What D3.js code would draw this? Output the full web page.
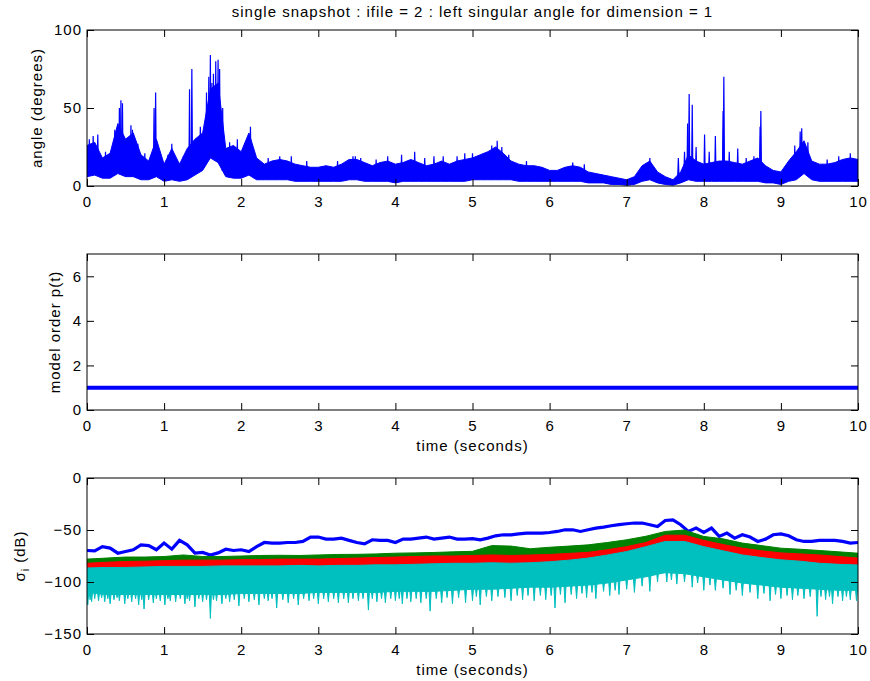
<!DOCTYPE html>
<html>
<head>
<meta charset="utf-8">
<script src="https://cdn.jsdelivr.net/npm/d3@7"></script>
<style>
body { margin: 0; background: #fff; }
text { font-family: "Liberation Sans", Arial, Helvetica, sans-serif; letter-spacing: 1px; }
</style>
</head>
<body>
<svg id="fig" width="870" height="681"></svg>
<script>
// angle (degrees), sampled every 0.1 s from 0 to 10 s: top and bottom of the dense band
var angleHi = [26,28,18,21,40,30,34,20,16,30, 14,24,14,24,30,34,62,66,24,26,
  22,34,18,14,16,17,16,14,13,12, 12,13,12,14,17,17,15,13,15,16,
  14,15,17,15,13,14,16,14,16,17, 18,20,22,25,21,16,14,13,13,12,
  10,10,12,13,12,9,8,7,6,5, 4,6,13,16,9,6,4,9,20,16,
  14,15,16,16,15,14,16,18,13,10, 9,16,22,29,16,14,14,15,17,18, 17];
var angleLo = [6,7,5,5,8,6,6,4,4,6, 3,4,3,4,7,10,18,15,6,5,
  5,7,4,4,4,4,4,3,3,3, 3,3,3,3,4,4,3,3,3,3,
  2,3,3,3,3,3,3,3,3,3, 4,4,4,4,4,4,3,3,3,3,
  3,3,3,3,3,2,2,2,1,1, 0.5,1,3,4,2,1,0.5,2,4,3,
  3,3,3,3,3,3,3,3,2,2, 1,3,4,8,4,3,3,3,3,3, 3];
// narrow peaks of the angle [time, degrees]
var angleSpikes = [[0.03,30],[0.08,32],[0.14,33],[0.24,22],[0.36,36],[0.42,50],[0.44,55],[0.46,53],[0.57,39],[0.59,36],
  [0.66,27],[0.75,21],[0.87,50],[0.89,60],[1.05,20],[1.1,27],[1.25,19],[1.33,62],[1.36,75],[1.47,38],[1.55,60],
  [1.58,70],[1.6,84],[1.62,66],[1.64,72],[1.67,80],[1.7,81],[1.72,75],[1.76,50],[1.85,28],[1.95,30],[2.05,27],
  [2.12,38],[2.35,18],[2.5,19],[2.65,19],[2.85,16],[3.25,16],[3.45,19],[3.48,19],[3.55,18],[3.75,17],[3.9,19],
  [4.08,20],[4.25,22],[4.38,18],[4.5,19],[4.62,19],[4.8,19],[4.9,21],[5.0,21],[5.15,21],[5.25,26],[5.32,29],
  [5.38,25],[5.47,20],[5.7,16],[6.3,15],[6.45,14],[7.3,18],[7.67,18],[7.75,22],
  [7.79,40],[7.81,59],[7.85,52],[7.9,25],[8.01,33],[8.07,22],[8.15,32],[8.25,48],[8.26,70],[8.33,22],[8.44,24],
  [8.55,18],[8.65,19],[8.73,38],[8.74,48],[9.18,26],[9.25,35],[9.27,37],[9.35,28],[9.6,17],[9.75,19],[9.9,21]];

// model order p(t)
var orderTimes = [0, 10];
var orderValues = [1, 1];

// sigma_1 (dB) every 0.1 s
var sigma1 = [-69.7,-70,-66,-67.4,-72.3,-70.7,-69,-64.3,-65,-69,
  -62.6,-68.4,-60,-64.3,-72.3,-71.6,-74,-72,-68.5,-69.7,
  -69,-70.7,-66,-62,-62.6,-62.6,-62,-62,-61,-56.8,
  -56.8,-58.8,-58.8,-57.8,-60,-62,-63.3,-59.4,-60,-60,
  -62,-58.8,-58.8,-57.8,-56.8,-58.8,-57.8,-56.8,-58.8,-58.8,
  -58.3,-59.4,-57.8,-55.6,-54.6,-54.6,-53.7,-53,-53,-53,
  -52.4,-51.4,-49.8,-49.8,-51.4,-49.8,-48.2,-47.2,-45.9,-44.9,
  -44,-43.3,-43.3,-44.9,-46.6,-40.8,-40.2,-44.9,-51.4,-48.2,
  -52.4,-48.2,-56.2,-53,-57.8,-54.6,-56.8,-61,-58.8,-54.6,
  -53.7,-55.6,-59.4,-61,-61,-60,-60,-60,-61,-62.6, -62];

// sigma_2..4 bands (dB) every 0.25 s
var greenHi = [-78,-77,-76,-76,-75.5,-74,-75.5,-75.5,-75,-74.5, -74.3,-74.5,-74,-73.5,-73.4,-73,-72.3,-72,-71.6,-71,
  -70.5,-65,-65.5,-68,-66.6,-65.5,-64.3,-62,-59.4,-56, -51.4,-50,-56.2,-58.5,-62.6,-65,-67.5,-68.5,-69.7,-71,-72.3];
var greenLo = [-85,-84,-83.5,-83,-82.5,-82,-82,-82,-81.5,-81.5, -81,-81,-81,-80.5,-80,-79.5,-79,-78.5,-78,-78,
  -77.5,-77,-77.5,-77,-76.5,-75.5,-74.5,-72,-69,-65, -58,-58,-63,-67,-70.5,-73,-75,-76,-77,-78.5,-80];
var redHi = [-82,-81,-80.3,-80,-79.5,-79,-79,-79,-78.5,-78.5, -78,-78,-78,-77.5,-77,-76.5,-76,-75.5,-75,-75,
  -74.5,-74,-74.5,-74,-73.5,-72.5,-71.5,-69,-66,-62, -55,-55,-60,-64,-67.5,-70,-72,-73,-74,-75.5,-77];
var redLo = [-89.5,-89,-89,-88.5,-88,-88,-88,-87.5,-87.5,-87.5, -87.5,-87,-87.5,-87,-87,-86.5,-86.5,-86,-85.5,-85,
  -85,-84.5,-85,-84.5,-83.5,-82,-80,-77,-73.7,-69, -64,-64,-69,-73,-77,-79.5,-81.7,-83,-85,-86,-86.6];
var cyanHi = [-86.5,-86,-86,-85.5,-85,-85,-85,-84.5,-84.5,-84.5, -84.5,-84,-84.5,-84,-84,-83.5,-83.5,-83,-82.5,-82,
  -82,-81.5,-82,-81.5,-80.5,-79,-77,-74,-70.7,-66, -61,-61,-66,-70,-74,-76.5,-78.7,-80,-82,-83,-83.6];
var cyanLo = [-110,-112,-112,-112,-112,-112,-112,-112,-111,-111, -111,-111,-110,-110,-110,-110,-109,-109,-109,-108,
  -107,-107,-106,-105,-105,-104,-103,-101,-98,-95, -91,-92,-95,-98,-101,-103,-105,-106,-107,-108,-108];
// downward peaks of sigma_4 [time, dB]
var cyanSpikes = [[0.01,-122],[0.04,-117],[0.06,-119],[0.1,-116],[0.15,-118],[0.19,-115],[0.23,-119],[0.27,-116],
  [0.3,-121],[0.35,-117],[0.39,-115],[0.42,-118],[0.49,-121],[0.53,-116],[0.58,-119],[0.63,-116],[0.67,-122],
  [0.71,-117],[0.74,-126],[0.8,-117],[0.86,-120],[0.9,-116],[0.95,-118],[1.01,-122],[1.05,-116],[1.08,-118],
  [1.15,-119],[1.21,-116],[1.27,-121],[1.3,-116],[1.33,-118],[1.4,-124],[1.45,-116],[1.5,-119],[1.55,-117],
  [1.6,-135],[1.64,-117],[1.68,-118],[1.75,-121],[1.8,-116],[1.85,-119],[1.91,-117],[1.97,-123],[2.04,-116],
  [2.1,-119],[2.17,-117],[2.23,-122],[2.3,-116],[2.35,-118],[2.4,-116],[2.46,-125],[2.54,-117],[2.61,-120],
  [2.68,-116],[2.74,-122],[2.81,-116],[2.88,-118],[2.94,-116],[3.0,-121],[3.07,-116],[3.13,-119],[3.2,-116],
  [3.26,-120],[3.33,-116],[3.39,-120],[3.45,-116],[3.52,-118],[3.58,-116],[3.65,-127],[3.7,-116],[3.76,-119],
  [3.82,-116],[3.87,-120],[3.94,-116],[4.0,-118],[4.05,-116],[4.09,-121],[4.15,-116],[4.2,-119],[4.27,-116],
  [4.33,-120],[4.4,-116],[4.45,-128],[4.53,-116],[4.6,-120],[4.67,-115],[4.74,-121],[4.82,-115],[4.91,-120],
  [5.0,-118],[5.05,-114],[5.1,-122],[5.18,-114],[5.25,-118],[5.33,-114],[5.42,-115],[5.5,-118],[5.58,-113],
  [5.65,-117],[5.72,-113],[5.8,-118],[5.88,-113],[5.95,-117],[6.02,-113],[6.07,-125],[6.14,-112],[6.2,-120],
  [6.28,-112],[6.35,-116],[6.42,-111],[6.48,-115],[6.55,-110],[6.6,-116],[6.7,-109],[6.78,-113],[6.85,-108],
  [6.9,-112],[7.0,-107],[7.1,-110],[7.2,-104],[7.3,-109],[7.4,-100],[7.52,-100],[7.58,-98],[7.65,-102],
  [7.75,-100],[7.85,-105],[7.92,-101],[8.0,-108],[8.08,-103],[8.15,-108],[8.25,-106],[8.34,-112],[8.42,-108],
  [8.5,-113],[8.6,-110],[8.7,-116],[8.78,-111],[8.86,-118],[8.93,-112],[9.0,-116],[9.08,-113],[9.15,-117],
  [9.22,-113],[9.3,-116],[9.38,-114],[9.47,-133],[9.52,-114],[9.58,-117],[9.63,-114],[9.67,-121],[9.74,-114],
  [9.8,-118],[9.85,-114],[9.9,-117],[9.98,-118]];

var xTicks = [0,1,2,3,4,5,6,7,8,9,10];
var angleTicks = [0,50,100];
var orderTicks = [0,2,4,6];
var sigmaTicks = [-150,-100,-50,0];

var titleText = "single snapshot : ifile = 2 : left singular angle for dimension = 1";

var svg = d3.select("#fig");
var L = 87, R = 858, H = 156;
var tops = [30, 254, 478];
var tickLen = 7;
var fontSize = 15;
var fmt = d3.format("d");

var x = d3.scaleLinear().domain([0, 10]).range([L, R]);

function panel(i, yDomain, yTicks, xLabel){
  var top = tops[i];
  var y = d3.scaleLinear().domain(yDomain).range([top + H, top]);
  var g = svg.append("g");
  svg.append("clipPath").attr("id", "clip" + i)
    .append("rect").attr("x", L).attr("y", top).attr("width", R - L).attr("height", H);
  var plot = g.append("g").attr("clip-path", "url(#clip" + i + ")");

  // osie - ticki do srodka
  g.append("g").attr("transform", "translate(0," + (top + H) + ")")
    .call(d3.axisBottom(x).tickValues(xTicks).tickSize(-tickLen).tickPadding(10).tickFormat(fmt));
  g.append("g").attr("transform", "translate(0," + top + ")")
    .call(d3.axisTop(x).tickValues(xTicks).tickSize(-tickLen).tickFormat(""));
  g.append("g").attr("transform", "translate(" + L + ",0)")
    .call(d3.axisLeft(y).tickValues(yTicks).tickSize(-tickLen).tickPadding(5).tickFormat(fmt));
  g.append("g").attr("transform", "translate(" + R + ",0)")
    .call(d3.axisRight(y).tickValues(yTicks).tickSize(-tickLen).tickFormat(""));
  g.selectAll(".domain").remove();
  g.selectAll(".tick line").attr("stroke", "#000");
  g.selectAll(".tick text").attr("font-size", fontSize).attr("fill", "#000")
    .attr("font-family", "'Liberation Sans', Arial, sans-serif");
  g.append("rect").attr("x", L).attr("y", top).attr("width", R - L).attr("height", H)
    .attr("fill", "none").attr("stroke", "#000").attr("stroke-width", 1);

  if(xLabel){
    g.append("text").attr("x", (L + R) / 2).attr("y", top + H + 41)
      .attr("text-anchor", "middle").attr("font-size", fontSize).text(xLabel);
  }
  return {y: y, plot: plot, g: g};
}

// panel 1: angle
var p1 = panel(0, [0, 100], angleTicks, null);
var t01 = angleHi.map(function(d, i){ return i / 10; });
p1.plot.append("path")
  .datum(t01)
  .attr("d", d3.area()
    .x(function(d){ return x(d); })
    .y0(function(d, i){ return p1.y(angleLo[i]); })
    .y1(function(d, i){ return p1.y(angleHi[i]); }))
  .attr("fill", "#0000ff").attr("stroke", "#0000ff").attr("stroke-width", 1);
angleSpikes.forEach(function(s){
  var k = Math.round(s[0] * 10);
  p1.plot.append("path")
    .attr("d", d3.line()([[x(s[0] - 0.008), p1.y(angleLo[k] + 4)], [x(s[0]), p1.y(s[1])], [x(s[0] + 0.008), p1.y(angleLo[k] + 4)]]))
    .attr("fill", "#0000ff").attr("stroke", "#0000ff").attr("stroke-width", 1.2);
});
p1.g.append("text")
  .attr("transform", "translate(42," + (tops[0] + H / 2) + ") rotate(-90)")
  .attr("text-anchor", "middle").attr("font-size", fontSize).text("angle (degrees)");

// panel 2: model order
var p2 = panel(1, [0, 7], orderTicks, "time (seconds)");
p2.plot.append("path")
  .datum(orderTimes)
  .attr("d", d3.line().x(function(d){ return x(d); }).y(function(d, i){ return p2.y(orderValues[i]); }))
  .attr("fill", "none").attr("stroke", "#0000ff").attr("stroke-width", 4);
p2.g.append("text")
  .attr("transform", "translate(60," + (tops[1] + H / 2) + ") rotate(-90)")
  .attr("text-anchor", "middle").attr("font-size", fontSize).text("model order p(t)");

// panel 3: singular values
var p3 = panel(2, [-150, 0], sigmaTicks, "time (seconds)");
var t025 = greenHi.map(function(d, i){ return i / 4; });
p3.plot.append("path")
  .datum(sigma1.map(function(d, i){ return [i / 10, d]; }))
  .attr("d", d3.line().x(function(d){ return x(d[0]); }).y(function(d){ return p3.y(d[1]); }))
  .attr("fill", "none").attr("stroke", "#0000ff").attr("stroke-width", 3.2);

function band(hi, lo, col){
  p3.plot.append("path")
    .datum(t025)
    .attr("d", d3.area()
      .x(function(d){ return x(d); })
      .y0(function(d, i){ return p3.y(lo[i]); })
      .y1(function(d, i){ return p3.y(hi[i]); }))
    .attr("fill", col).attr("stroke", col).attr("stroke-width", 1);
}
band(greenHi, greenLo, "#008000");
band(redHi, redLo, "#ff0000");
band(cyanHi, cyanLo, "#00bfbf");
cyanSpikes.forEach(function(s){
  var k = Math.round(s[0] * 4);
  p3.plot.append("path")
    .attr("d", d3.line()([[x(s[0] - 0.015), p3.y(cyanLo[k] + 3)], [x(s[0]), p3.y(s[1])], [x(s[0] + 0.015), p3.y(cyanLo[k] + 3)]]))
    .attr("fill", "#00bfbf").attr("stroke", "#00bfbf").attr("stroke-width", 1);
});
var sl = p3.g.append("text")
  .attr("transform", "translate(25," + (tops[2] + H / 2) + ") rotate(-90)")
  .attr("text-anchor", "middle").attr("font-size", fontSize);
sl.append("tspan").text("σ");
sl.append("tspan").attr("font-size", 11).attr("dy", 4).text("i");
sl.append("tspan").attr("dy", -4).text(" (dB)");

// tytul
svg.append("text").attr("x", (L + R) / 2).attr("y", 17)
  .attr("text-anchor", "middle").attr("font-size", 15).text(titleText);
</script>
</body>
</html>
